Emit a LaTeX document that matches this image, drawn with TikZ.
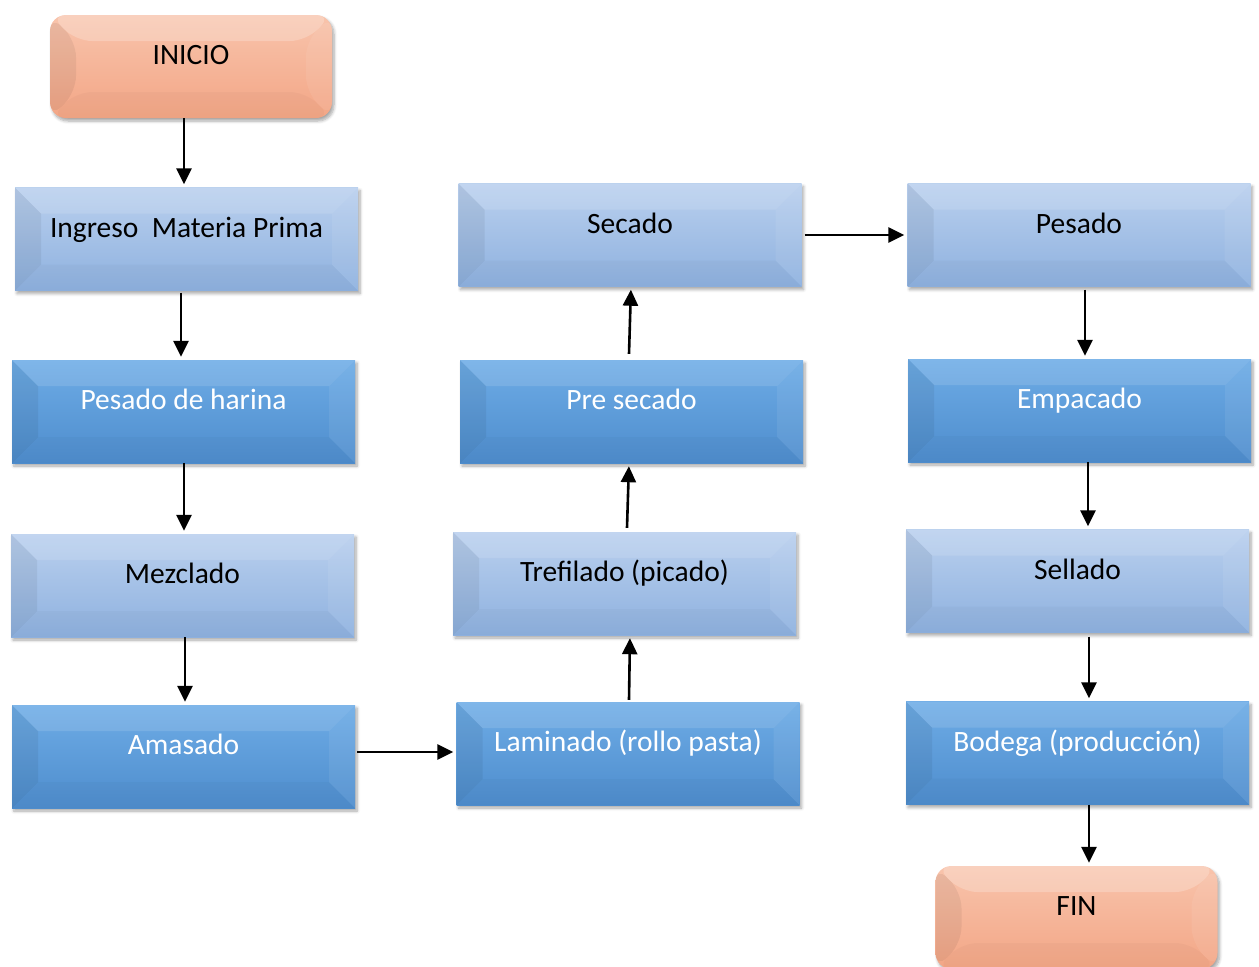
\documentclass[tikz,border=0pt]{standalone}
\usepackage{fontspec}
\setmainfont{Carlito}
\usetikzlibrary{arrows.meta,calc,shadows.blur}

\definecolor{lightTop}{RGB}{186,208,238}
\definecolor{lightBot}{RGB}{142,177,223}
\definecolor{darkTop}{RGB}{110,172,230}
\definecolor{darkBot}{RGB}{78,141,205}
\definecolor{peachTop}{RGB}{248,196,172}
\definecolor{peachBot}{RGB}{243,166,134}

\tikzset{
  % four bevel facets laid over the filled box
  bevel/.style={path picture={
    \path (path picture bounding box.north west) coordinate (bv-nw)
          (path picture bounding box.north east) coordinate (bv-ne)
          (path picture bounding box.south west) coordinate (bv-sw)
          (path picture bounding box.south east) coordinate (bv-se);
    \fill[white,opacity=#1] (bv-nw) -- (bv-ne) -- ($(bv-ne)+(-26pt,-26pt)$) -- ($(bv-nw)+(26pt,-26pt)$) -- cycle;
    \fill[black,opacity=0.06] (bv-nw) -- (bv-sw) -- ($(bv-sw)+(26pt,26pt)$) -- ($(bv-nw)+(26pt,-26pt)$) -- cycle;
    \fill[white,opacity=0.07] (bv-ne) -- (bv-se) -- ($(bv-se)+(-26pt,26pt)$) -- ($(bv-ne)+(-26pt,-26pt)$) -- cycle;
    \fill[black,opacity=0.025] (bv-sw) -- (bv-se) -- ($(bv-se)+(-26pt,26pt)$) -- ($(bv-sw)+(26pt,26pt)$) -- cycle;
  }},
  box/.style={minimum width=343pt, minimum height=103pt, inner sep=0pt,
    font=\fontsize{29.5}{34}\selectfont, text height=20pt, text depth=24pt,
    blur shadow={shadow xshift=2pt, shadow yshift=-3pt, shadow blur steps=6,
      shadow blur radius=3pt, shadow opacity=35}},
  lightbox/.style={box, top color=lightTop, bottom color=lightBot, text=black, bevel=0.12},
  darkbox/.style={box, top color=darkTop, bottom color=darkBot, text=white, bevel=0.12},
  termbox/.style={box, minimum width=282pt, rounded corners=16pt,
    top color=peachTop, bottom color=peachBot, text=black, bevel=0.22},
  arr/.style={line width=2.6pt, -{Triangle[length=16pt,width=15pt]}, shorten >=3pt},
}

\begin{document}
\begin{tikzpicture}[x=1pt,y=-1pt]
\useasboundingbox (0,0) rectangle (1259,967);

% first column
\node[termbox]  (inicio)   at (191,66.5)    {INICIO};
\node[lightbox] (ingreso)  at (186.5,239)   {Ingreso\ \ Materia Prima};
\node[darkbox]  (pesadoh)  at (183.5,411.5) {Pesado de harina};
\node[lightbox] (mezclado) at (182.5,585.5) {Mezclado};
\node[darkbox]  (amasado)  at (183.5,756.5) {Amasado};

% second column
\node[lightbox] (secado)    at (630,235)     {Secado};
\node[darkbox]  (presecado) at (631.5,411.5) {Pre secado};
\node[lightbox] (trefilado) at (624.5,583.5) {Trefilado (picado)};
\node[darkbox]  (laminado)  at (628,753.5)   {Laminado (rollo pasta)};

% third column
\node[lightbox] (pesado)   at (1079,235)     {Pesado};
\node[darkbox]  (empacado) at (1079.5,410.5) {Empacado};
\node[lightbox] (sellado)  at (1077.5,581)   {Sellado};
\node[darkbox]  (bodega)   at (1077.5,753)   {Bodega (producción)};
\node[termbox]  (fin)      at (1076.5,917.5) {FIN};

% connectors
\draw[arr] ([xshift=-7pt]inicio.south) -- ([xshift=-7pt]inicio.south |- ingreso.north);
\draw[arr] ([xshift=-5.5pt,yshift=-2pt]ingreso.south) -- ([xshift=-5.5pt]ingreso.south |- pesadoh.north);
\draw[arr] ([xshift=0.5pt]pesadoh.south) -- ([xshift=0.5pt]pesadoh.south |- mezclado.north);
\draw[arr] ([xshift=2.5pt]mezclado.south) -- ([xshift=2.5pt]mezclado.south |- amasado.north);
\draw[arr] ([yshift=4.5pt,xshift=2pt]amasado.east) -- ([yshift=4.5pt]amasado.east -| laminado.west);
\draw[arr] ([xshift=1pt,yshift=2pt]laminado.north) -- ([xshift=5.5pt]trefilado.south);
\draw[arr] ([xshift=2.5pt,yshift=4pt]trefilado.north) -- ([xshift=-2.5pt]presecado.south);
\draw[arr] ([xshift=-2.5pt,yshift=6pt]presecado.north) -- ([xshift=1pt]secado.south);
\draw[arr] ([xshift=3pt]secado.east) -- (pesado.west);
\draw[arr] ([xshift=6pt,yshift=-3pt]pesado.south) -- ([xshift=6pt]pesado.south |- empacado.north);
\draw[arr] ([xshift=8.5pt]empacado.south) -- ([xshift=8.5pt]empacado.south |- sellado.north);
\draw[arr] ([xshift=11.5pt,yshift=-4pt]sellado.south) -- ([xshift=11.5pt]sellado.south |- bodega.north);
\draw[arr] ([xshift=11.5pt]bodega.south) -- ([xshift=11.5pt]bodega.south |- fin.north);
\end{tikzpicture}
\end{document}
